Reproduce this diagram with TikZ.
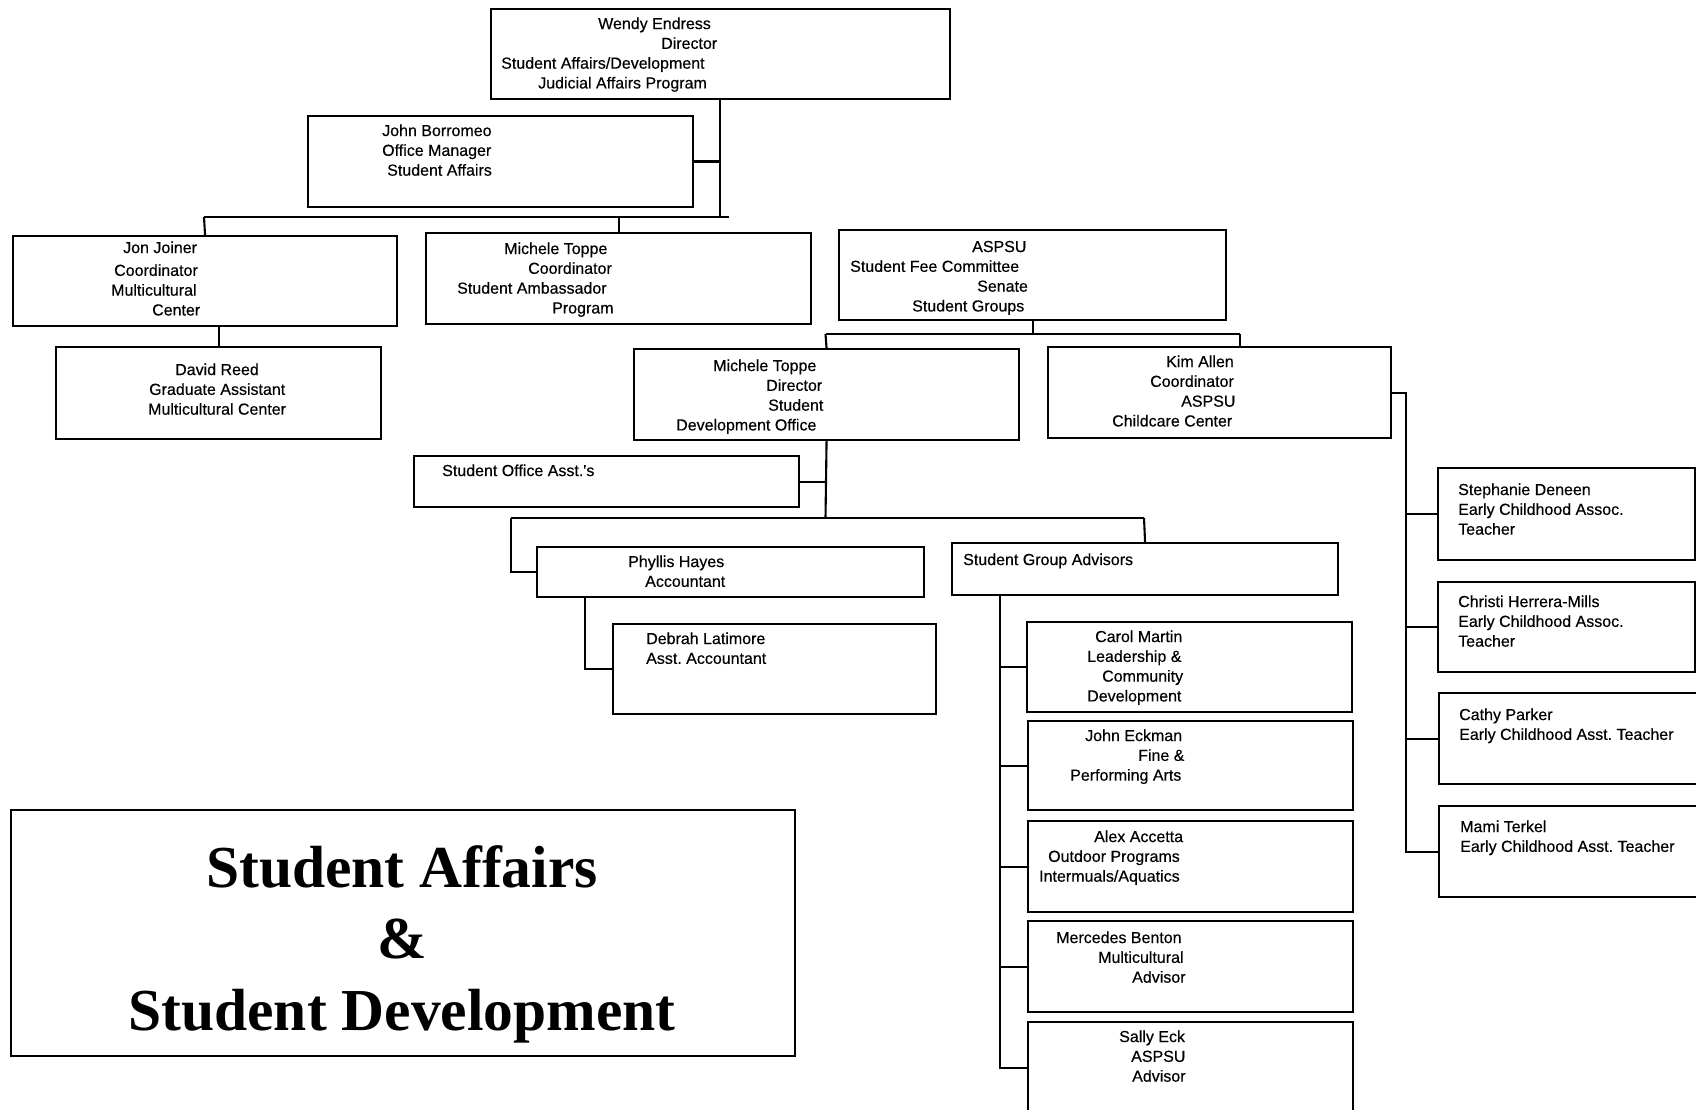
\documentclass[tikz,border=0pt]{standalone}
\usepackage{fontspec}
\setmainfont{Liberation Sans}[Ligatures=TeXOff, FakeBold=0.4]
\newfontfamily\titleserif{Liberation Serif}
\newcommand{\indentby}[1]{\hspace*{#1pt}}
\frenchspacing
\begin{document}
\begin{tikzpicture}[x=1pt,y=-1pt,
  box/.style={draw, line width=2.1pt, inner sep=0pt, anchor=north west},
  conn/.style={line width=2.1pt},
  txt/.style={anchor=north west, inner sep=0pt, align=left,
    font=\fontsize{16}{19.8}\selectfont},
  ttl/.style={anchor=north, inner sep=0pt, align=center,
    font=\titleserif\bfseries\fontsize{59.5}{71.5}\selectfont}]
\path[use as bounding box] (0,0) rectangle (1696,1110);
\clip (0,0) rectangle (1696,1110);

% ---------- boxes ----------
\node[box, minimum width=459pt, minimum height=90pt] (wendy)    at (490,8) {};
\node[box, minimum width=385pt, minimum height=91pt] (borromeo) at (307,115) {};
\node[box, minimum width=384pt, minimum height=90pt] (jon)      at (12,235) {};
\node[box, minimum width=385pt, minimum height=91pt] (michc)    at (425,232) {};
\node[box, minimum width=387pt, minimum height=90pt] (aspsu)    at (838,229) {};
\node[box, minimum width=325pt, minimum height=92pt] (david)    at (55,346) {};
\node[box, minimum width=385pt, minimum height=91pt] (director) at (633,348) {};
\node[box, minimum width=343pt, minimum height=91pt] (kim)      at (1047,346) {};
\node[box, minimum width=385pt, minimum height=51pt] (office)   at (413,455) {};
\node[box, minimum width=387pt, minimum height=50pt] (phyllis)  at (536,546) {};
\node[box, minimum width=386pt, minimum height=52pt] (sga)      at (951,542) {};
\node[box, minimum width=323pt, minimum height=90pt] (debrah)   at (612,623) {};
\node[box, minimum width=325pt, minimum height=90pt] (carol)    at (1026,621) {};
\node[box, minimum width=325pt, minimum height=89pt] (eckman)   at (1027,720) {};
\node[box, minimum width=325pt, minimum height=91pt] (alex)     at (1027,820) {};
\node[box, minimum width=325pt, minimum height=91pt] (mercedes) at (1027,920) {};
\node[box, minimum width=325pt, minimum height=100pt] (sally)   at (1027,1021) {};
\node[box, minimum width=257pt, minimum height=92pt] (stephanie) at (1437,467) {};
\node[box, minimum width=257pt, minimum height=90pt] (christi)  at (1437,581) {};
\node[box, minimum width=262pt, minimum height=91pt] (cathy)    at (1438,692) {};
\node[box, minimum width=262pt, minimum height=91pt] (mami)     at (1438,805) {};
\node[box, minimum width=784pt, minimum height=246pt] (title)   at (10,809) {};

% ---------- texts ----------
\node[txt] (wendy-t) at (501,15) {\strut\indentby{97}Wendy Endress\\\indentby{160}Director\\Student Affairs/Development\\\indentby{37}Judicial Affairs Program};
\node[txt] (borromeo-t) at (382,122) {\strut John Borromeo\\Office Manager\\\indentby{5}Student Affairs};
\node[txt] (jon-t) at (111,239) {\strut\indentby{12}Jon Joiner\\[3pt]\indentby{3}Coordinator\\Multicultural\\\indentby{41}Center};
\node[txt] (david-t) at (148,361) {\strut\indentby{27}David Reed\\\indentby{1}Graduate Assistant\\Multicultural Center};
\node[txt] (michc-t) at (457,240) {\strut\indentby{47}Michele Toppe\\\indentby{71}Coordinator\\Student Ambassador\\\indentby{95}Program};
\node[txt] (aspsu-t) at (850,238) {\strut\indentby{122}ASPSU\\Student Fee Committee\\\indentby{127}Senate\\\indentby{62}Student Groups};
\node[txt] (director-t) at (676,357) {\strut\indentby{37}Michele Toppe\\\indentby{90}Director\\\indentby{92}Student\\Development Office};
\node[txt] (kim-t) at (1112,353) {\strut\indentby{54}Kim Allen\\\indentby{38}Coordinator\\\indentby{69}ASPSU\\Childcare Center};
\node[txt] (office-t) at (442,462) {\strut Student Office Asst.'s};
\node[txt] (phyllis-t) at (628,553) {\strut Phyllis Hayes\\\indentby{17}Accountant};
\node[txt] (debrah-t) at (646,630) {\strut Debrah Latimore\\Asst. Accountant};
\node[txt] (sga-t) at (963,551) {\strut Student Group Advisors};
\node[txt] (carol-t) at (1087,628) {\strut\indentby{8}Carol Martin\\Leadership \&\\\indentby{15}Community\\Development};
\node[txt] (eckman-t) at (1070,727) {\strut\indentby{15}John Eckman\\\indentby{68}Fine \&\\Performing Arts};
\node[txt] (alex-t) at (1039,828) {\strut\indentby{55}Alex Accetta\\\indentby{9}Outdoor Programs\\Intermuals/Aquatics};
\node[txt] (mercedes-t) at (1056,929) {\strut Mercedes Benton\\\indentby{42}Multicultural\\\indentby{76}Advisor};
\node[txt] (sally-t) at (1119,1028) {\strut Sally Eck\\\indentby{12}ASPSU\\\indentby{13}Advisor};
\node[txt] (stephanie-t) at (1458,481) {\strut Stephanie Deneen\\Early Childhood Assoc.\\Teacher};
\node[txt] (christi-t) at (1458,593) {\strut Christi Herrera-Mills\\Early Childhood Assoc.\\Teacher};
\node[txt] (cathy-t) at (1459,706) {\strut Cathy Parker\\Early Childhood Asst. Teacher};
\node[txt] (mami-t) at (1460,818) {\strut Mami Terkel\\Early Childhood Asst. Teacher};
\node[ttl] (title-t) at (402,845) {Student Affairs\\\&\\Student Development};

% ---------- top level ----------
\coordinate (trunk) at (720,217);
\coordinate (barL) at (204,217);
\coordinate (barR) at (729,217);
\draw[conn] (wendy.south -| trunk) -- (trunk);
\draw[conn] (borromeo.east) -- (borromeo.east -| trunk);
\draw[conn] (barL) -- (barR);
\draw[conn] (barL) -- (jon.north);
\draw[conn] (michc.north) -- (michc.north |- trunk);
\draw[conn] (jon.south -| david.north) -- (david.north);

% ---------- ASPSU branch ----------
\coordinate (aspL) at (825.5,334);
\coordinate (aspR) at (1240,334);
\draw[conn] (aspsu.south) -- (aspsu.south |- aspL);
\draw[conn] (aspL) -- (aspR);
\draw[conn] (aspL) -- (director.north);
\draw[conn] (aspR) -- (aspR |- kim.north);

% ---------- student development office ----------
\coordinate (devbar) at (825.5,518);
\coordinate (devL) at (511,518);
\coordinate (devR) at (1144,518);
\draw[conn] (director.south) -- (devbar);
\draw[conn] (office.east) -- (office.east -| devbar);
\draw[conn] (devL) -- (devR);
\draw[conn] (devL) |- (phyllis.west);
\draw[conn] (devR) -- (sga.north);
\coordinate (acc) at (585,596);
\draw[conn] (phyllis.south -| acc) |- (debrah.west);

% ---------- student group advisors ----------
\coordinate (sgx) at (1000,1068);
\draw[conn] (sga.south -| sgx) -- (sgx) -- (sgx -| sally.west);
\foreach \n in {carol,eckman,alex,mercedes}
  \draw[conn] (sgx |- \n.west) -- (\n.west);

% ---------- childcare center ----------
\coordinate (kx) at (1406,854);
\draw[conn] (kim.east) -| (kx |- mami.west) -- (mami.west);
\foreach \n in {stephanie,christi,cathy}
  \draw[conn] (kx |- \n.west) -- (\n.west);
\end{tikzpicture}
\end{document}
